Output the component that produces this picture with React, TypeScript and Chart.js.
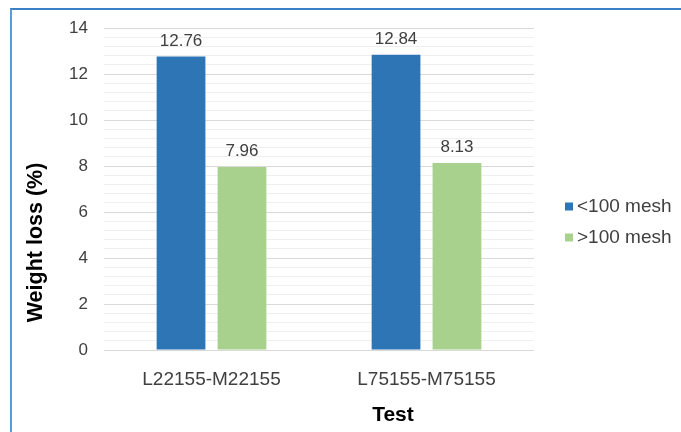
import React, { useEffect, useRef } from "react";
import { Chart, registerables } from "chart.js";

Chart.register(...registerables);

// Test pairs and the weight loss of each sieve fraction (%)
const categories = ["L22155-M22155", "L75155-M75155"];
const seriesNames = ["<100 mesh", ">100 mesh"];
const fineFraction = [12.76, 12.84];
const coarseFraction = [7.96, 8.13];
const yTickLabels = [0, 2, 4, 6, 8, 10, 12, 14];
const yMinorStep = 0.4;
const xTitle = "Test";
const yTitle = "Weight loss (%)";

const FONT = '"Liberation Sans", Arial, sans-serif';
const BLUE = "#2e75b6";
const GREEN = "#a9d18e";
const TEXT = "#404040";

const isMajor = (v: number) => yTickLabels.some((t) => Math.abs(t - v) < 1e-6);

// Value labels above each bar
const valueLabels = {
  id: "valueLabels",
  afterDatasetsDraw(chart: any) {
    const ctx = chart.ctx;
    ctx.save();
    ctx.font = `17px ${FONT}`;
    ctx.fillStyle = TEXT;
    ctx.textAlign = "center";
    ctx.textBaseline = "alphabetic";
    chart.data.datasets.forEach((ds: any, i: number) => {
      const meta = chart.getDatasetMeta(i);
      meta.data.forEach((bar: any, j: number) => {
        ctx.fillText(ds.data[j].toFixed(2), bar.x, bar.y - 11);
      });
    });
    ctx.restore();
  },
};

// Legend on the right and both axis titles
const sideLegendAndTitles = {
  id: "sideLegendAndTitles",
  afterDraw(chart: any) {
    const ctx = chart.ctx;
    const area = chart.chartArea;
    ctx.save();
    const lx = area.right + 31;
    const ly = 206.5;
    ctx.font = `19px ${FONT}`;
    ctx.textBaseline = "middle";
    ctx.textAlign = "left";
    chart.data.datasets.forEach((ds: any, i: number) => {
      const y = ly + i * 31;
      ctx.fillStyle = ds.backgroundColor;
      ctx.fillRect(lx, y - 4, 8, 8);
      ctx.fillStyle = TEXT;
      ctx.fillText(ds.label, lx + 12, y);
    });

    ctx.fillStyle = "#000000";
    ctx.textAlign = "center";
    ctx.font = `bold 21px ${FONT}`;
    ctx.fillText(xTitle, area.left + (area.right - area.left) * 0.672, 415);

    ctx.font = `bold 21.5px ${FONT}`;
    ctx.translate(35.6, 242.5);
    ctx.rotate(-Math.PI / 2);
    ctx.fillText(yTitle, 0, 0);
    ctx.restore();
  },
};

export default function App() {
  const canvasRef = useRef<HTMLCanvasElement | null>(null);

  useEffect(() => {
    if (!canvasRef.current) return;
    const chart = new Chart(canvasRef.current, {
      type: "bar",
      data: {
        labels: categories,
        datasets: [
          {
            label: seriesNames[0],
            data: fineFraction,
            backgroundColor: BLUE,
            categoryPercentage: 0.567,
            barPercentage: 0.8,
          },
          {
            label: seriesNames[1],
            data: coarseFraction,
            backgroundColor: GREEN,
            categoryPercentage: 0.567,
            barPercentage: 0.8,
          },
        ],
      },
      options: {
        responsive: false,
        animation: false,
        devicePixelRatio: 1,
        layout: { padding: { top: 28, right: 147, bottom: 0, left: 0 } },
        plugins: {
          legend: { display: false },
          tooltip: { enabled: false },
        },
        scales: {
          x: {
            grid: { display: false },
            border: { display: false },
            ticks: {
              color: TEXT,
              font: { family: FONT, size: 19 },
              padding: 10,
              maxRotation: 0,
            },
            afterFit: (scale: any) => {
              scale.height = 82;
            },
          },
          y: {
            min: 0,
            max: 14,
            border: { display: false },
            grid: {
              drawTicks: false,
              color: (c: any) => (isMajor(c.tick.value) ? "#d9d9d9" : "#efefef"),
              lineWidth: 1,
            },
            ticks: {
              stepSize: yMinorStep,
              autoSkip: false,
              color: TEXT,
              font: { family: FONT, size: 17 },
              padding: 16,
              callback: (v: any) => (isMajor(Number(v)) ? String(Math.round(Number(v))) : ""),
            },
            afterFit: (scale: any) => {
              scale.width = 104;
            },
          },
        },
      },
      plugins: [valueLabels, sideLegendAndTitles],
    });
    return () => chart.destroy();
  }, []);

  return (
    <div
      style={{
        position: "fixed",
        left: 0,
        top: 0,
        width: 681,
        height: 432,
        overflow: "hidden",
        background: "#ffffff",
      }}
    >
      <div
        style={{
          position: "absolute",
          left: 10,
          top: 8,
          width: 760,
          height: 520,
          borderTop: "2px solid #3a80c4",
          borderLeft: "2px solid #5b9bd5",
        }}
      />
      <canvas
        ref={canvasRef}
        width={681}
        height={432}
        style={{ position: "absolute", left: 0, top: 0, width: 681, height: 432 }}
      />
    </div>
  );
}
